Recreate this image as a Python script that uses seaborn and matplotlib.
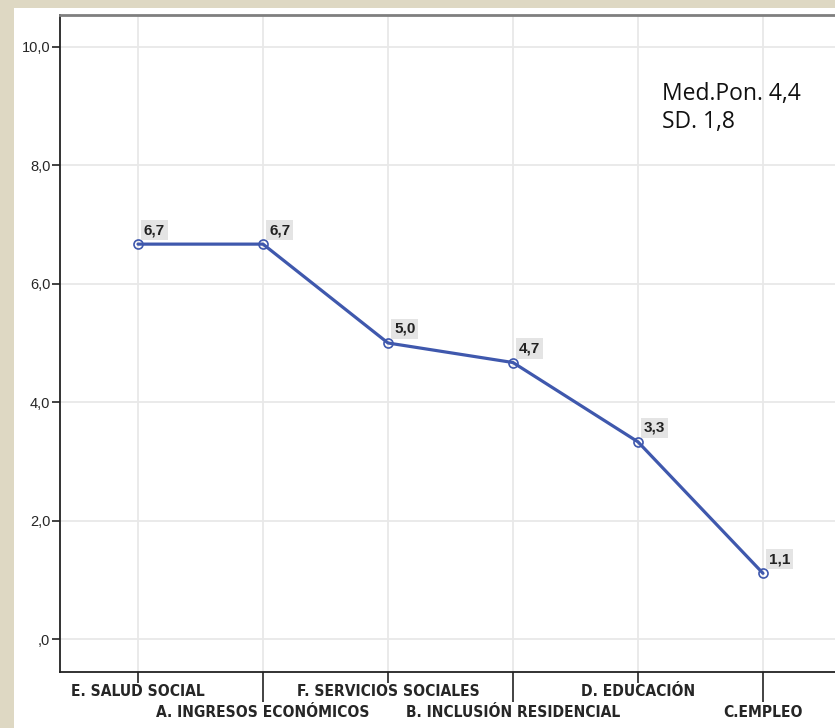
import numpy as np
import matplotlib
matplotlib.use("Agg")
import matplotlib.pyplot as plt
import seaborn as sns
from matplotlib import font_manager
from matplotlib.patches import Rectangle

# data
categories = ["E. SALUD SOCIAL", "A. INGRESOS ECONÓMICOS", "F. SERVICIOS SOCIALES",
              "B. INCLUSIÓN RESIDENCIAL", "D. EDUCACIÓN", "C.EMPLEO"]
values = [6.67, 6.67, 5.0, 4.67, 3.33, 1.11]
y_ticks = [0, 2, 4, 6, 8, 10]
y_tick_labels = [",0", "2,0", "4,0", "6,0", "8,0", "10,0"]
note_text = "Med.Pon. 4,4\nSD. 1,8"

sns.set_theme(style="white")

installed = {f.name for f in font_manager.fontManager.ttflist}
narrow = "Liberation Sans Narrow" if "Liberation Sans Narrow" in installed else "DejaVu Sans"
narrow_stretch = "normal" if narrow == "Liberation Sans Narrow" else "condensed"
plt.rcParams["font.family"] = ["Liberation Sans", "DejaVu Sans"]

line_color = "#3f58ad"
beige = "#ded8c3"

fig = plt.figure(figsize=(8.35, 7.28), dpi=100, facecolor="white")
# beige frame strips (left and top)
fig.patches.append(Rectangle((0, 0), 14 / 835, 1, transform=fig.transFigure,
                             facecolor=beige, edgecolor="none", zorder=-10))
fig.patches.append(Rectangle((0, 1 - 8 / 728), 1, 8 / 728, transform=fig.transFigure,
                             facecolor=beige, edgecolor="none", zorder=-10))

ax = fig.add_axes([60 / 835, 1 - 672 / 728, 790 / 835, (672 - 15) / 728])
ax.set_facecolor("white")

x = np.arange(len(categories))
sns.lineplot(x=x, y=values, ax=ax, color=line_color, linewidth=2.3,
             marker="o", markersize=6.5, markerfacecolor="none",
             markeredgecolor=line_color, markeredgewidth=1.2, zorder=3)

# value labels with grey boxes
for xi, v in zip(x, values):
    ax.annotate(f"{v:.1f}".replace(".", ","), (xi, v), xytext=(6, 7),
                textcoords="offset pixels", ha="left", va="bottom",
                fontsize=11, fontweight="bold", color="#222222",
                bbox=dict(boxstyle="square,pad=0.2", facecolor="#e4e4e4", edgecolor="none"),
                zorder=4)

ax.set_xlim(-0.624, 5.696)
ax.set_ylim(-0.557, 10.54)

# alternating two-row category labels
even = x[::2]
odd = x[1::2]
ax.set_xticks(even, [categories[i] for i in even])
ax.set_xticks(odd, [categories[i] for i in odd], minor=True)
for lab in ax.get_xticklabels() + ax.get_xticklabels(minor=True):
    lab.set_family([narrow, "DejaVu Sans"])
    lab.set_fontstretch(narrow_stretch)
    lab.set_fontweight("bold")
    lab.set_fontsize(11.2)
ax.tick_params(axis="x", which="major", length=8, width=1.2, color="#222222", pad=1, direction="out", bottom=True)
ax.tick_params(axis="x", which="minor", length=21.5, width=1.2, color="#222222", pad=2.5, direction="out", bottom=True)

ax.set_yticks(y_ticks, y_tick_labels)
ax.tick_params(axis="y", length=6, width=1.2, color="#222222", pad=1, labelsize=10.5, direction="out", left=True)

ax.grid(True, axis="both", which="major", color="#e8e8e8", linewidth=1.3)
ax.grid(True, axis="x", which="minor", color="#e8e8e8", linewidth=1.3)
ax.set_axisbelow(True)

for side in ["left", "bottom"]:
    ax.spines[side].set_color("#222222")
    ax.spines[side].set_linewidth(1.3)
    ax.spines[side].set_visible(True)
ax.spines["top"].set_color("#7f7f7f")
ax.spines["top"].set_linewidth(2)
ax.spines["top"].set_visible(True)
ax.spines["right"].set_visible(False)
ax.set_xlabel("")
ax.set_ylabel("")

ax.text(662 / 835, 1 - 108 / 728, note_text, transform=fig.transFigure,
        family=["Open Sans", "DejaVu Sans"], fontsize=16.5, va="center",
        ha="left", linespacing=1.22, color="#111111")

plt.savefig("out.png", dpi=100, facecolor=fig.get_facecolor())
